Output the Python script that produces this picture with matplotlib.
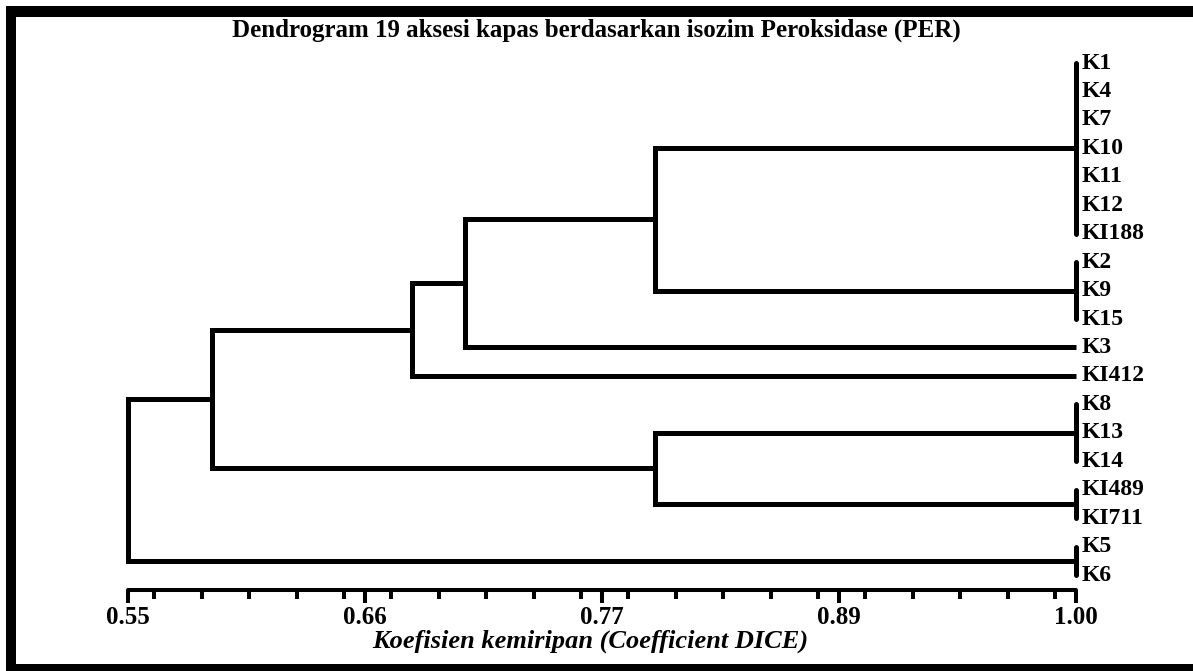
import matplotlib
matplotlib.use('Agg')
import matplotlib.pyplot as plt
from matplotlib.patches import Rectangle
from matplotlib.ticker import MultipleLocator
from matplotlib.transforms import offset_copy

W, H = 1193, 671
plt.rcParams['font.family'] = 'Liberation Serif'
plt.rcParams['font.weight'] = 'bold'

leaves = ['K1', 'K4', 'K7', 'K10', 'K11', 'K12', 'KI188', 'K2', 'K9', 'K15',
          'K3', 'KI412', 'K8', 'K13', 'K14', 'KI489', 'KI711', 'K5', 'K6']
# accessions that are identical (similarity 1.00)
groups = [['K1', 'K4', 'K7', 'K10', 'K11', 'K12', 'KI188'],
          ['K2', 'K9', 'K15'],
          ['K3'],
          ['KI412'],
          ['K8', 'K13', 'K14'],
          ['KI489', 'KI711'],
          ['K5', 'K6']]
# merges: (cluster a, cluster b, similarity); new cluster ids continue after groups
merges = [(0, 1, 0.80), (7, 2, 0.71), (8, 3, 0.685), (4, 5, 0.80),
          (9, 10, 0.59), (11, 6, 0.55)]
tick_vals = [0.55, 0.6625, 0.775, 0.8875, 1.00]
tick_labels = ['0.55', '0.66', '0.77', '0.89', '1.00']

fig = plt.figure(figsize=(W / 100, H / 100), dpi=100)
ax = fig.add_axes([128 / W, 81 / H, 948 / W, 550 / H])
ax.set_xlim(0.55, 1.0)
ax.set_ylim(18.527, -0.809)

lw = 3.6
pos = {}
for g in groups:
    ys = [leaves.index(n) for n in g]
    ax.plot([1.0, 1.0], [min(ys), max(ys)], color='k', lw=lw,
            solid_capstyle='round', clip_on=False)
    pos[len(pos)] = (1.0, (min(ys) + max(ys)) / 2)
for a, b, h in merges:
    xa, ya = pos[a]
    xb, yb = pos[b]
    ax.plot([xa, h, h, xb], [ya, ya, yb, yb], color='k', lw=lw,
            solid_joinstyle='miter', solid_capstyle='butt', clip_on=False)
    pos[len(pos)] = (h, (ya + yb) / 2)

# leaf labels
lbl_tr = offset_copy(ax.transData, fig=fig, x=6, y=0, units='dots')
for i, n in enumerate(leaves):
    ax.text(1.0, i, n, transform=lbl_tr, ha='left', va='center',
            fontsize=17, fontweight='bold', clip_on=False)

# axis
for s in ['left', 'top', 'right']:
    ax.spines[s].set_visible(False)
ax.spines['bottom'].set_linewidth(2.9)
ax.spines['bottom'].set_capstyle('round')
ax.set_yticks([])
ax.set_xticks(tick_vals, tick_labels)
ax.xaxis.set_minor_locator(MultipleLocator(0.0225))
ax.tick_params(axis='x', which='major', length=9.5, width=2.9, labelsize=18, pad=2)
ax.tick_params(axis='x', which='minor', length=6.5, width=2.9)
ax.patch.set_alpha(0)

fig.text(596 / W, 1 - 30 / H, 'Dendrogram 19 aksesi kapas berdasarkan isozim Peroksidase (PER)',
         ha='center', va='center', fontsize=18, fontweight='bold')
fig.text(590 / W, 1 - 641 / H, 'Koefisien kemiripan (Coefficient DICE)',
         ha='center', va='center', fontsize=19, fontweight='bold', style='italic')

# black frame (top, left, bottom)
for x0, y0, x1, y1 in [(6, 6, W, 17), (6, 6, 16, H), (6, 664, W, H)]:
    fig.patches.append(Rectangle((x0 / W, 1 - y1 / H), (x1 - x0) / W, (y1 - y0) / H,
                                 transform=fig.transFigure, color='k', lw=0))

fig.savefig('out.png', dpi=100)
